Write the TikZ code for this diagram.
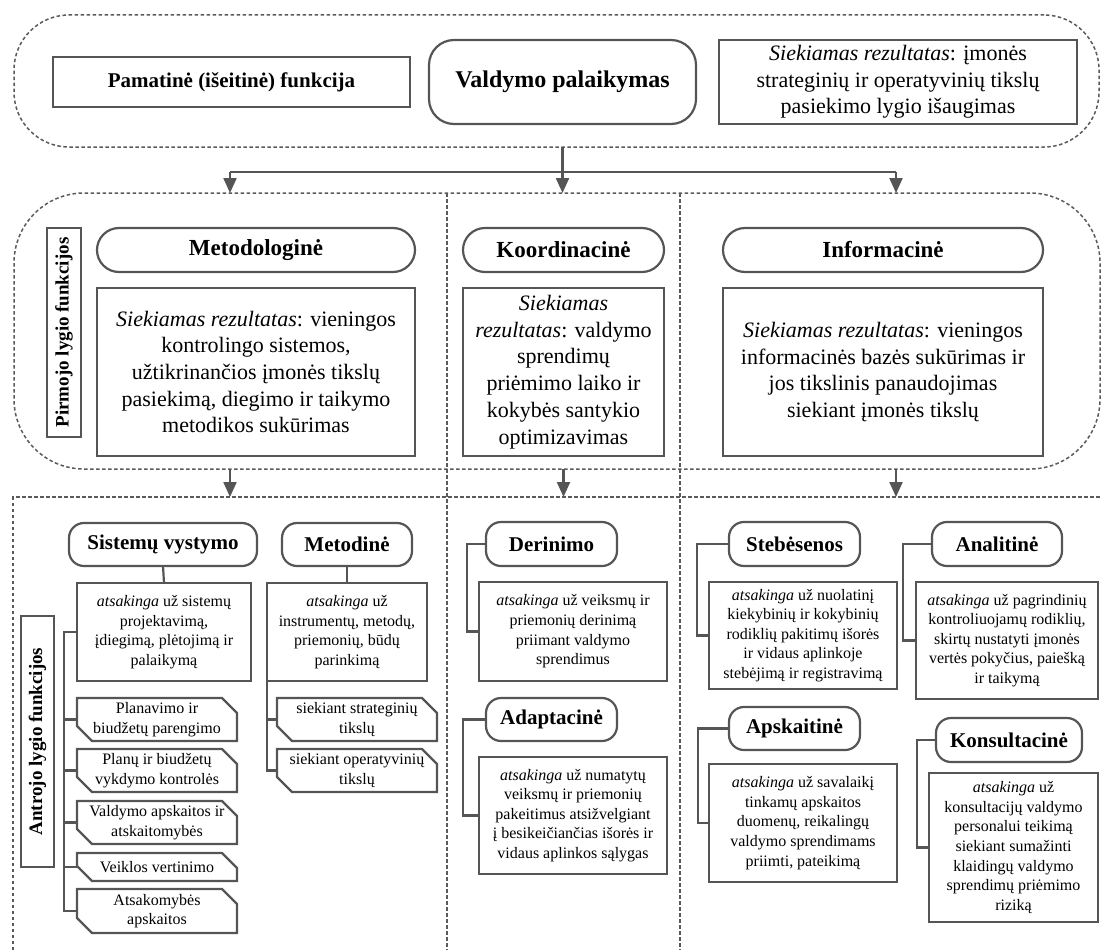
\documentclass[tikz,border=0pt]{standalone}
\usepackage{fontspec}
\setmainfont{Liberation Serif}
\usetikzlibrary{arrows.meta}

\definecolor{edgegray}{RGB}{85,85,85}
\definecolor{dashgray}{RGB}{90,90,90}

% font sizes (1pt in the picture = one unit of the grid)
\newcommand\txtbig{\fontsize{22}{26.7}\selectfont}
\newcommand\txtsmall{\fontsize{16}{19.6}\selectfont}
\newcommand\hdtop{\fontsize{24}{28}\selectfont\bfseries}
\newcommand\hdplain{\fontsize{21}{25}\selectfont\bfseries}
\newcommand\hdmid{\fontsize{23}{27}\selectfont\bfseries}
\newcommand\hdbot{\fontsize{21}{25}\selectfont\bfseries}
\newcommand\hdside{\fontsize{19}{22}\selectfont\bfseries}

% box from its top-left corner (x1,y1) to its bottom-right corner (x2,y2)
\newcommand\mkbox[7]{\node[#2, anchor=north west,
  minimum width={(#5-#3)*1pt}, minimum height={(#6-#4)*1pt}] (#1) at (#3,#4) {#7};}

\tikzset{
  every node/.style={inner sep=1pt, outer sep=0pt, align=center, text=black},
  frame/.style={draw=dashgray, line width=1.5pt, dash pattern=on 3.5pt off 2.5pt},
  plainbox/.style={draw=edgegray, line width=2.2pt},
  capbox/.style={draw=edgegray, line width=2.2pt, rounded corners=22pt, font=\hdmid},
  subhead/.style={draw=edgegray, line width=2.2pt, rounded corners=15pt, font=\hdbot},
  descbox/.style={draw=edgegray, line width=2.2pt, font=\txtsmall},
  chamf/.style={font=\txtsmall},
  conn/.style={draw=edgegray, line width=2.2pt},
  arr/.style={draw=edgegray, line width=2.2pt, -{Triangle[width=13pt,length=15pt]}},
}

\begin{document}
\begin{tikzpicture}[x=1pt, y=-1pt]
\useasboundingbox (0,0) rectangle (1102,950);

% ---------- base function ----------
\mkbox{grp1}{frame, rounded corners=55pt}{14}{15}{1099}{147}{}
\mkbox{pamat}{plainbox, font=\hdplain}{53}{57}{410}{107}{Pamatinė (išeitinė) funkcija}
\mkbox{valdymo}{plainbox, rounded corners=25pt, font=\hdtop}{429}{40}{696}{124}{Valdymo palaikymas}
\mkbox{topres}{plainbox, font=\txtbig}{719}{40}{1077}{124}{\textit{Siekiamas rezultatas}: įmonės\\strateginių ir operatyvinių tikslų\\pasiekimo lygio išaugimas}

% ---------- first level ----------
\mkbox{grp2}{frame, rounded corners=70pt}{14}{193}{1100}{469}{}
\node[plainbox, rotate=90, minimum width=209pt, minimum height=34pt, font=\hdside] (pirm) at (64,332.5) {Pirmojo lygio funkcijos};
\mkbox{metod}{capbox}{97}{228}{415}{272}{Metodologinė}
\mkbox{metodres}{plainbox, font=\txtbig}{97}{288}{415}{456}{\textit{Siekiamas rezultatas}: vieningos\\kontrolingo sistemos,\\užtikrinančios įmonės tikslų\\pasiekimą, diegimo ir taikymo\\metodikos sukūrimas}
\mkbox{koord}{capbox}{463}{228}{664}{272}{Koordinacinė}
\mkbox{koordres}{plainbox, font=\txtbig}{463}{288}{664}{456}{\textit{Siekiamas}\\\textit{rezultatas}: valdymo\\sprendimų\\priėmimo laiko ir\\kokybės santykio\\optimizavimas}
\mkbox{inform}{capbox}{723}{228}{1043}{272}{Informacinė}
\mkbox{informres}{plainbox, font=\txtbig}{723}{288}{1043}{456}{\textit{Siekiamas rezultatas}: vieningos\\informacinės bazės sukūrimas ir\\jos tikslinis panaudojimas\\siekiant įmonės tikslų}

% column dividers and the second-level frame
\coordinate (dv1t) at (447,193); \coordinate (dv1b) at (447,950);
\coordinate (dv2t) at (680,193); \coordinate (dv2b) at (680,950);
\draw[frame] (dv1t) -- (dv1b);
\draw[frame] (dv2t) -- (dv2b);
\coordinate (bf1) at (13,950); \coordinate (bf2) at (13,497); \coordinate (bf3) at (1102,497);
\draw[frame] (bf1) -- (bf2) -- (bf3);

% ---------- arrows between levels ----------
\coordinate (c1) at (230,172);
\coordinate (c3) at (896,172);
\draw[conn] (c1) -- (c3);
\draw[arr] (valdymo.south |- grp1.south) -- (valdymo.south |- grp2.north);
\draw[arr] (c1) -- (c1 |- grp2.north);
\draw[arr] (c3) -- (c3 |- grp2.north);
\draw[arr] (c1 |- grp2.south) -- (c1 |- bf2);
\draw[arr] (koord.south |- grp2.south) -- (koord.south |- bf2);
\draw[arr] (c3 |- grp2.south) -- (c3 |- bf2);

% ---------- second level: methodological ----------
\node[plainbox, rotate=90, minimum width=251pt, minimum height=33pt, font=\hdside] (antr) at (37.5,741.5) {Antrojo lygio funkcijos};
\mkbox{sist}{subhead}{69}{523}{257}{566}{Sistemų vystymo}
\mkbox{metodine}{subhead}{282}{523}{412}{566}{Metodinė}
\mkbox{sistd}{descbox}{77}{583}{251}{681}{\textit{atsakinga} už sistemų\\projektavimą,\\įdiegimą, plėtojimą ir\\palaikymą}
\mkbox{metd}{descbox}{267}{583}{427}{681}{\textit{atsakinga} už\\instrumentų, metodų,\\priemonių, būdų\\parinkimą}
\mkbox{s1}{chamf}{77}{698}{237}{741}{Planavimo ir\\biudžetų parengimo}
\mkbox{s2}{chamf}{77}{749}{237}{792}{Planų ir biudžetų\\vykdymo kontrolės}
\mkbox{s3}{chamf}{77}{801}{237}{844}{Valdymo apskaitos ir\\atskaitomybės}
\mkbox{s4}{chamf}{77}{853}{237}{881}{Veiklos vertinimo}
\mkbox{s5}{chamf}{77}{889}{237}{933}{Atsakomybės\\apskaitos}
\mkbox{m1}{chamf}{277}{698}{437}{741}{siekiant strateginių\\tikslų}
\mkbox{m2}{chamf}{277}{749}{437}{792}{siekiant operatyvinių\\tikslų}
\foreach \n in {s1,s2,s3,s4,s5,m1,m2}
  \draw[conn] (\n.north west) -- ([xshift=-15pt]\n.north east) -- ([yshift=-15pt]\n.north east)
    -- (\n.south east) -- ([xshift=15pt]\n.south west) -- ([yshift=15pt]\n.south west) -- cycle;

\draw[conn] (sist.south) -- (sistd.north);
\draw[conn] (metodine.south) -- (metd.north);
\coordinate (sx) at (64,0);
\draw[conn] (sistd.west) -- (sistd.west -| sx) -- (s5.west -| sx) -- (s5.west);
\foreach \n in {s1,s2,s3,s4}
  \draw[conn] (\n.west -| sx) -- (\n.west);
\coordinate (mx) at (267,0);
\draw[conn] (metd.west) -- (m2.west -| mx) -- (m2.west);
\draw[conn] (m1.west -| mx) -- (m1.west);

% ---------- second level: coordination ----------
\mkbox{derin}{subhead}{486}{522}{617}{566}{Derinimo}
\mkbox{derind}{descbox}{479}{582}{667}{681}{\textit{atsakinga} už veiksmų ir\\priemonių derinimą\\priimant valdymo\\sprendimus}
\mkbox{adapt}{subhead}{486}{698}{617}{741}{Adaptacinė}
\mkbox{adaptd}{descbox}{479}{757}{667}{874}{\textit{atsakinga} už numatytų\\veiksmų ir priemonių\\pakeitimus atsižvelgiant\\į besikeičiančias išorės ir\\vidaus aplinkos sąlygas}
\coordinate (dx) at (467,0);
\draw[conn] (derin.west) -- (derin.west -| dx) |- (derind.west);
\coordinate (ax) at (463,0);
\draw[conn] (adapt.west) -- (adapt.west -| ax) |- (adaptd.west);

% ---------- second level: information ----------
\mkbox{steb}{subhead}{729}{522}{860}{566}{Stebėsenos}
\mkbox{stebd}{descbox}{709}{582}{897}{689}{\textit{atsakinga} už nuolatinį\\kiekybinių ir kokybinių\\rodiklių pakitimų išorės\\ir vidaus aplinkoje\\stebėjimą ir registravimą}
\mkbox{anal}{subhead}{932}{522}{1062}{566}{Analitinė}
\mkbox{anald}{descbox}{916}{582}{1098}{699}{\textit{atsakinga} už pagrindinių\\kontroliuojamų rodiklių,\\skirtų nustatyti įmonės\\vertės pokyčius, paiešką\\ir taikymą}
\mkbox{apsk}{subhead}{729}{707}{860}{750}{Apskaitinė}
\mkbox{apskd}{descbox}{709}{764}{897}{882}{\textit{atsakinga} už savalaikį\\tinkamų apskaitos\\duomenų, reikalingų\\valdymo sprendimams\\priimti, pateikimą}
\mkbox{kons}{subhead}{936}{718}{1082}{762}{Konsultacinė}
\mkbox{konsd}{descbox}{929}{773}{1098}{922}{\textit{atsakinga} už\\konsultacijų valdymo\\personalui teikimą\\siekiant sumažinti\\klaidingų valdymo\\sprendimų priėmimo\\riziką}
\coordinate (sbx) at (697,0);
\draw[conn] (steb.west) -- (steb.west -| sbx) |- (stebd.west);
\coordinate (anx) at (903,0);
\draw[conn] (anal.west) -- (anal.west -| anx) |- (anald.west);
\coordinate (apx) at (698,0);
\draw[conn] (apsk.west) -- (apsk.west -| apx) |- (apskd.west);
\coordinate (kox) at (917,0);
\draw[conn] (kons.west) -- (kons.west -| kox) |- (konsd.west);
\end{tikzpicture}
\end{document}
